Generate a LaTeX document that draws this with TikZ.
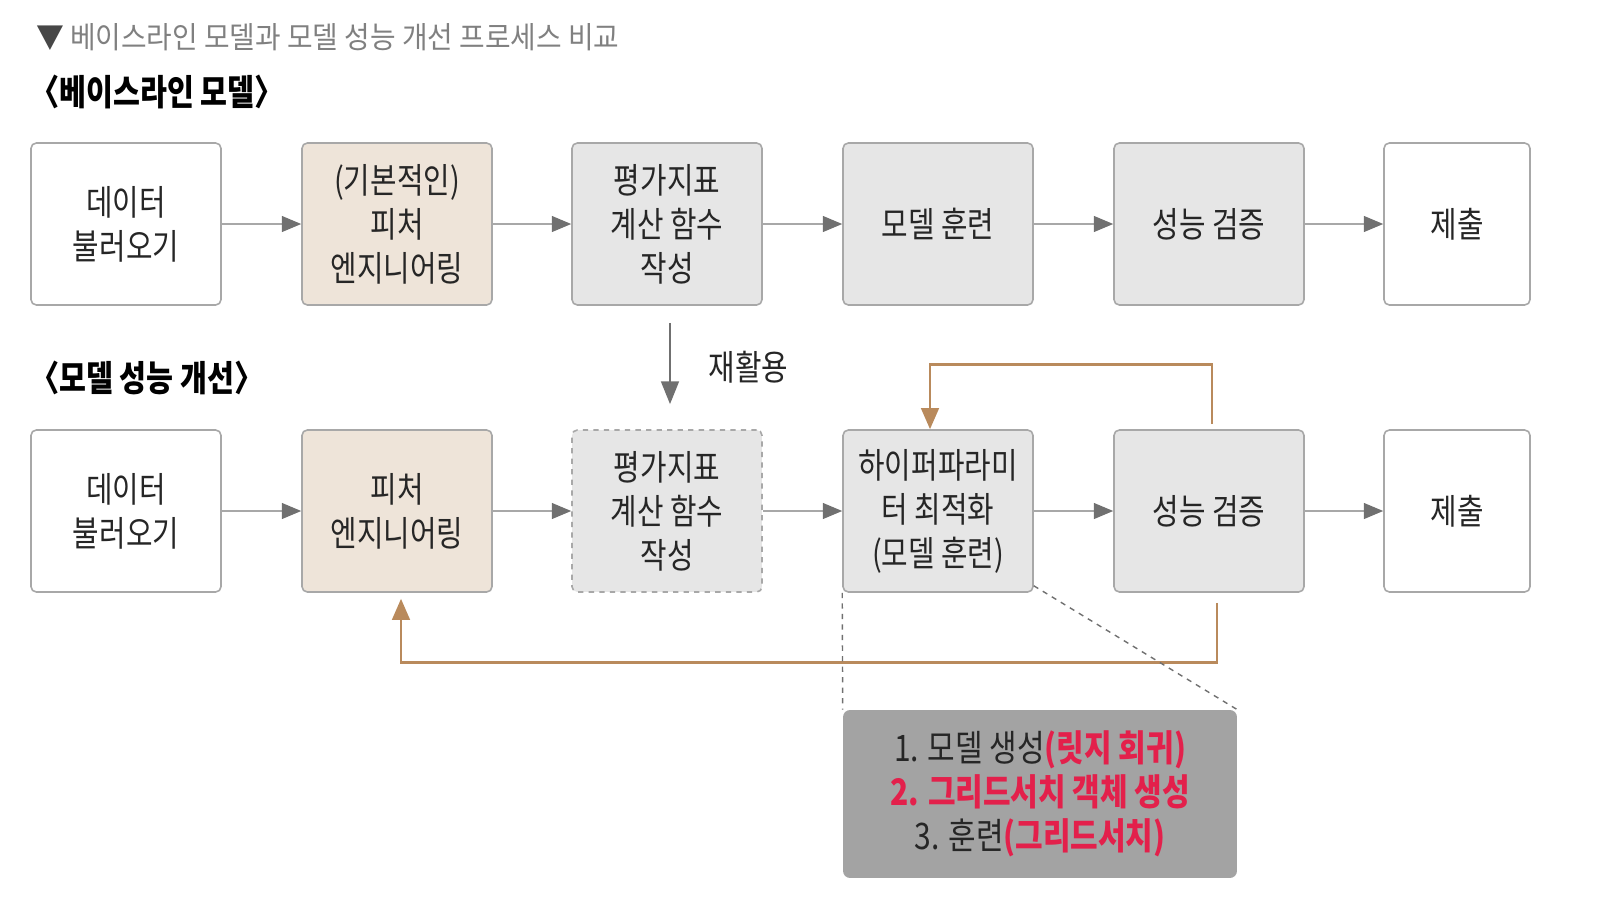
\documentclass[tikz,border=0pt]{standalone}
\usepackage{fontspec}
\setmainfont{Noto Sans CJK KR}[FakeStretch=0.82]
\newfontfamily\titlefont{Noto Sans CJK KR}[FakeStretch=0.92]
\usetikzlibrary{arrows.meta}

\definecolor{boxline}{HTML}{A8A8A8}
\definecolor{beige}{HTML}{EEE4D9}
\definecolor{lightgray}{HTML}{E6E6E6}
\definecolor{notegray}{HTML}{A3A3A3}
\definecolor{brown}{HTML}{B98A5C}
\definecolor{hotred}{HTML}{E3204B}
\definecolor{headgray}{HTML}{707070}

\begin{document}
\begin{tikzpicture}[
    x=0.02cm, y=-0.02cm,
    stage/.style={rectangle, rounded corners=3pt, draw=boxline, line width=0.9pt,
        fill=white, minimum width=3.8cm, minimum height=3.24cm, align=center,
        inner sep=0pt, font=\fontsize{20}{25}\selectfont, text=black!85},
    feat/.style={stage, fill=beige},
    calc/.style={stage, fill=lightgray},
    endbox/.style={stage, minimum width=2.92cm},
    flow/.style={line width=0.9pt, draw=boxline,
        -{Triangle[length=11pt, width=9pt, color=headgray]}},
    reuse/.style={line width=1.6pt, draw=headgray,
        -{Triangle[length=13pt, width=10pt]}},
    loop/.style={line width=1.6pt, draw=brown,
        -{Triangle[length=12pt, width=10pt]}},
    zoomline/.style={line width=0.8pt, draw=headgray, dashed}
]
    \useasboundingbox (0,0) rectangle (1605,916);

    % headings
    \node[anchor=west, text=black!50, font=\titlefont\fontsize{17.2}{20}\selectfont]
        (title) at (30,37) {{\color{black!72}▼} 베이스라인 모델과 모델 성능 개선 프로세스 비교};
    \node[anchor=west, font=\bfseries\fontsize{20.3}{22}\selectfont]
        (base) at (24,92) {〈베이스라인 모델〉};
    \node[anchor=west, font=\bfseries\fontsize{20.3}{22}\selectfont]
        (impr) at (24,378) {〈모델 성능 개선〉};

    % baseline model
    \node[stage] (d1) at (126,224) {데이터\\불러오기};
    \node[feat] (f1) at (397,224) {(기본적인)\\피처\\엔지니어링};
    \node[calc] (e1) at (667,224) {평가지표\\계산 함수\\작성};
    \node[calc] (t1) at (938,224) {모델 훈련};
    \node[calc] (v1) at (1209,224) {성능 검증};
    \node[endbox] (s1) at (1457,224) {제출};

    % improved model
    \node[stage] (d2) at (126,511) {데이터\\불러오기};
    \node[feat] (f2) at (397,511) {피처\\엔지니어링};
    \node[calc, dashed] (e2) at (667,511) {평가지표\\계산 함수\\작성};
    \node[calc] (h2) at (938,511) {하이퍼파라미\\터 최적화\\(모델 훈련)};
    \node[calc] (v2) at (1209,511) {성능 검증};
    \node[endbox] (s2) at (1457,511) {제출};

    % detail of the tuning step
    \node[rectangle, rounded corners=4pt, fill=notegray, minimum width=7.88cm,
        minimum height=3.36cm, align=center, text=black!85,
        font=\fontsize{20.8}{25}\selectfont]
        (z) at (1040,794) {1. 모델 생성{\bfseries\color{hotred}(릿지 회귀)}\\
        {\bfseries\color{hotred}2. 그리드서치 객체 생성}\\
        3. 훈련{\bfseries\color{hotred}(그리드서치)}};

    \draw[flow] (d1) -- (f1);
    \draw[flow] (f1) -- (e1);
    \draw[flow] (e1) -- (t1);
    \draw[flow] (t1) -- (v1);
    \draw[flow] (v1) -- (s1);

    \draw[flow] (d2) -- (f2);
    \draw[flow] (f2) -- (e2);
    \draw[flow] (e2) -- (h2);
    \draw[flow] (h2) -- (v2);
    \draw[flow] (v2) -- (s2);

    \draw[reuse, shorten <=17*0.02cm, shorten >=25*0.02cm]
        ([xshift=3*0.02cm]e1.south) -- ([xshift=3*0.02cm]e2.north)
        node[midway, right=18pt, font=\fontsize{20}{25}\selectfont, text=black!85] (lbl) {재활용};

    \draw[loop] ([xshift=3*0.02cm, yshift=5*0.02cm]v2.north) -- ++(0,-60) -| ([xshift=-8*0.02cm]h2.north);
    \draw[loop] ([xshift=8*0.02cm, yshift=-10*0.02cm]v2.south) -- ++(0,60) -| ([xshift=4*0.02cm, yshift=-6*0.02cm]f2.south);

    \draw[zoomline] (h2.south west) -- (z.north west);
    \draw[zoomline] ([yshift=7*0.02cm]h2.south east) -- (z.north east);
\end{tikzpicture}
\end{document}
